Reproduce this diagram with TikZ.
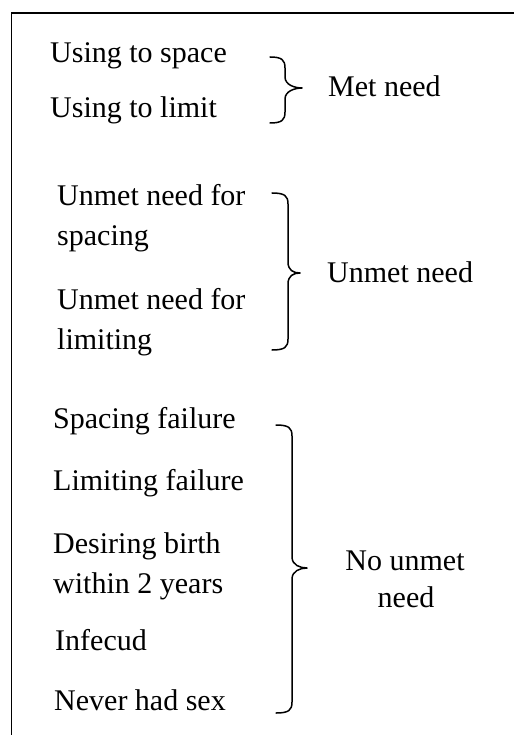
\documentclass[tikz,border=0pt]{standalone}
\usepackage{fontspec}
\setmainfont{Liberation Serif}
\begin{document}
\begin{tikzpicture}[x=1pt,y=-1pt,
  lbl/.style={inner sep=0pt,anchor=base west,font=\fontsize{30}{36}\selectfont},
  clbl/.style={inner sep=0pt,anchor=base,font=\fontsize{30}{36}\selectfont},
  bracepath/.style={line width=1.5pt,line cap=round,line join=round},
  frameline/.style={line width=1.8pt}]
\useasboundingbox (0,0) rectangle (514,735);
% open frame: top and left edges
\draw[frameline] (11.5,735) -- (11.5,13.3) -- (514,13.3);

% curly brace: top end, spine x, tip, bottom end
\newcommand{\curlybrace}[6]{%
  \draw[bracepath] (#1,#2)
    .. controls (#3-3,#2) and (#3,#2+3) .. (#3,#2+11)
    -- (#3,#5-11)
    .. controls (#3,#5-3) and (#4-7,#5) .. (#4,#5)
    .. controls (#4-7,#5) and (#3,#5+3) .. (#3,#5+11)
    -- (#3,#6-11)
    .. controls (#3,#6-3) and (#3-3,#6) .. (#1,#6);}

% Met need
\node[lbl] (us) at (50,63) {Using to space};
\node[lbl] (ul) at (50,118) {Using to limit};
\curlybrace{270}{57}{285}{302}{88}{123}
\node[lbl] (met) at (328,97) {Met need};

% Unmet need
\node[lbl] (ua1) at (57,205) {Unmet need for};
\node[lbl] (ua2) at (57,245) {spacing};
\node[lbl] (ub1) at (57,309) {Unmet need for};
\node[lbl] (ub2) at (57,349) {limiting};
\curlybrace{272}{193}{288}{300}{273}{350}
\node[lbl] (unmet) at (327,282) {Unmet need};

% No unmet need
\node[lbl] (sf) at (53,428) {Spacing failure};
\node[lbl] (lf) at (53,490) {Limiting failure};
\node[lbl] (db1) at (53,553) {Desiring birth};
\node[lbl] (db2) at (53,593) {within 2 years};
\node[lbl] (inf) at (55,650) {Infecud};
\node[lbl] (nhs) at (54,710) {Never had sex};
\curlybrace{276}{425}{292}{307}{568}{713}
\node[clbl] (nu1) at (405,570) {No unmet};
\node[clbl] (nu2) at (406,607) {need};
\end{tikzpicture}
\end{document}
